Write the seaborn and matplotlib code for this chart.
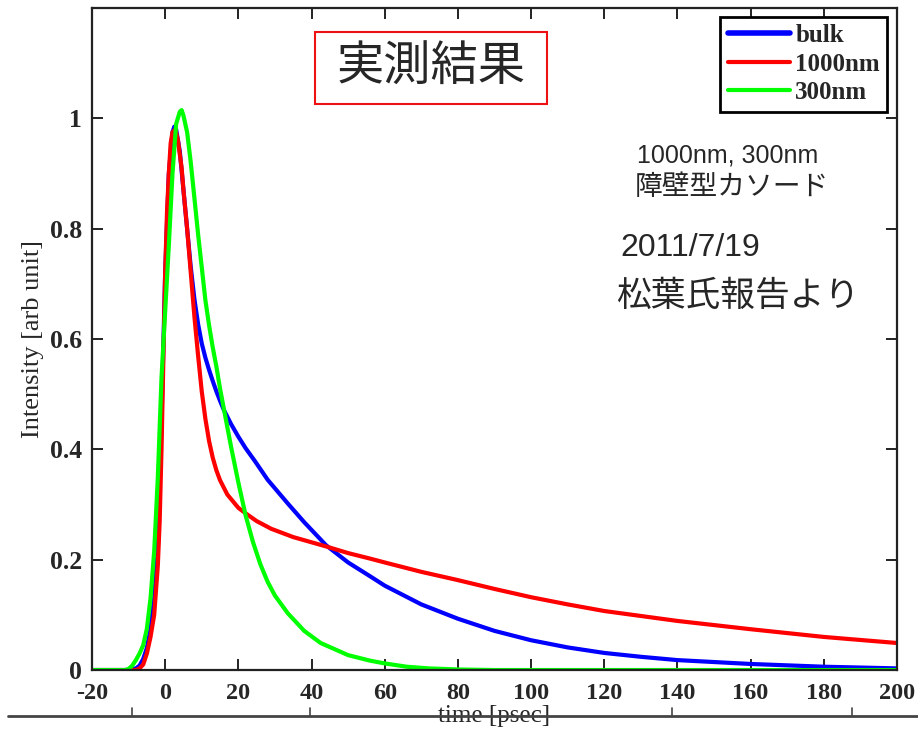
import pandas as pd
import matplotlib.pyplot as plt
import seaborn as sns
from matplotlib.patches import Rectangle
from matplotlib.lines import Line2D

bulk_t = [-20, -10, -8, -7, -6, -5, -4, -3, -2, -1, 0, 1, 2, 2.5, 3, 4, 5, 6, 7, 8, 9, 10,
          11, 12, 13, 14, 15, 16, 18, 20, 22, 24.5, 28, 33.5, 38, 44, 50, 56, 60, 70, 80,
          90, 100, 110, 120, 130, 140, 160, 180, 200]
bulk_i = [0, 0, 0.003, 0.008, 0.02, 0.04, 0.075, 0.13, 0.22, 0.45, 0.72, 0.9, 0.975, 0.985,
          0.98, 0.94, 0.87, 0.80, 0.73, 0.672, 0.627, 0.592, 0.566, 0.544, 0.524, 0.505, 0.488,
          0.472, 0.446, 0.423, 0.402, 0.379, 0.345, 0.302, 0.268, 0.226, 0.195, 0.170, 0.153,
          0.119, 0.093, 0.071, 0.054, 0.041, 0.031, 0.024, 0.018, 0.011, 0.006, 0.003]

nm1000_t = [-20, -8, -7, -6, -5, -4, -3, -2, -1.5, -1, -0.5, 0, 0.5, 1, 1.5, 2, 2.8, 3.5, 4,
            4.5, 5, 6, 7, 8, 9, 10, 11, 12, 13, 14, 15, 17, 20, 22, 25, 29, 35, 44, 50, 56,
            60, 70, 80, 90, 100, 110, 120, 140, 160, 180, 200]
nm1000_i = [0, 0, 0.003, 0.01, 0.03, 0.06, 0.10, 0.19, 0.27, 0.40, 0.56, 0.72, 0.83, 0.90,
            0.955, 0.975, 0.98, 0.96, 0.935, 0.91, 0.87, 0.80, 0.72, 0.64, 0.57, 0.505, 0.455,
            0.415, 0.385, 0.362, 0.344, 0.318, 0.294, 0.284, 0.27, 0.256, 0.241, 0.224, 0.212,
            0.202, 0.195, 0.178, 0.163, 0.147, 0.132, 0.119, 0.107, 0.089, 0.074, 0.060, 0.049]

nm300_t = [-20, -11, -10, -9, -8, -7, -6, -5, -4, -3, -2, -1, 0, 1, 2, 3, 4, 4.5, 5, 6, 7,
           8, 9, 10, 11, 12, 13, 14, 15, 16, 17, 18, 20, 22, 24, 26, 28, 30, 33.5, 38, 42.5,
           50, 56, 60, 66, 72, 80, 90, 200]
nm300_i = [0, 0, 0.002, 0.008, 0.018, 0.03, 0.045, 0.075, 0.13, 0.215, 0.35, 0.53, 0.65,
           0.77, 0.90, 0.99, 1.012, 1.015, 1.005, 0.975, 0.92, 0.855, 0.79, 0.73, 0.67, 0.625,
           0.585, 0.55, 0.51, 0.475, 0.44, 0.405, 0.34, 0.28, 0.232, 0.192, 0.16, 0.135, 0.103,
           0.071, 0.049, 0.027, 0.017, 0.012, 0.006, 0.003, 0.001, 0, 0]

series_names = ['bulk', '1000nm', '300nm']
series_colors = ['#0000ff', '#ff0000', '#00ff00']
x_ticks = [-20, 0, 20, 40, 60, 80, 100, 120, 140, 160, 180, 200]
y_ticks = [0, 0.2, 0.4, 0.6, 0.8, 1]
y_tick_labels = ['0', '0.2', '0.4', '0.6', '0.8', '1']

df = pd.concat([
    pd.DataFrame({'time': bulk_t, 'intensity': bulk_i, 'sample': 'bulk'}),
    pd.DataFrame({'time': nm1000_t, 'intensity': nm1000_i, 'sample': '1000nm'}),
    pd.DataFrame({'time': nm300_t, 'intensity': nm300_i, 'sample': '300nm'}),
])

sns.set_style('ticks')
plt.rcParams['font.family'] = ['Liberation Serif', 'DejaVu Serif']
jp_font = ['Liberation Sans', 'Noto Sans CJK JP']

fig = plt.figure(figsize=(9.18, 7.31), dpi=100)
ax = fig.add_axes([0.1002, 0.0834, 0.8769, 0.9056])

sns.lineplot(data=df, x='time', y='intensity', hue='sample', hue_order=series_names,
             palette=dict(zip(series_names, series_colors)), estimator=None,
             linewidth=3, ax=ax)

ax.set_xlim(-20, 200)
ax.set_ylim(0, 1.2)
ax.set_xticks(x_ticks)
ax.set_xticklabels([str(t) for t in x_ticks], fontsize=17.5, fontweight='bold')
ax.set_yticks(y_ticks)
ax.set_yticklabels(y_tick_labels, fontsize=18.5, fontweight='bold')
ax.tick_params(direction='in', length=8, width=1.4, top=True, right=True,
               color='#222222')
ax.tick_params(axis='x', pad=9)
ax.tick_params(axis='y', pad=7)
for sp in ax.spines.values():
    sp.set_linewidth(1.6)
    sp.set_color('#222222')
ax.set_xlabel('time [psec]', fontsize=18, labelpad=1)
ax.set_ylabel('Intensity [arb unit]', fontsize=19, labelpad=4)

leg = ax.legend(loc='upper right', bbox_to_anchor=(0.988, 0.987), borderaxespad=0,
                prop={'family': 'Liberation Serif', 'weight': 'bold', 'size': 18},
                handlelength=2.5, handletextpad=0.2, labelspacing=0.22,
                borderpad=0.3, fancybox=False, framealpha=1)
leg.get_frame().set_edgecolor('black')
leg.get_frame().set_linewidth(2)
leg.get_lines()[0].set_linewidth(4)

# red framed title
fig.patches.append(Rectangle((315 / 918, 1 - 104 / 731), 232 / 918, 72 / 731,
                             transform=fig.transFigure, fill=False,
                             edgecolor='#ee1111', linewidth=1.5))
fig.text(431 / 918, 1 - 69 / 731, '実測結果', family=jp_font, fontsize=34,
         ha='center', va='center')

fig.text(637 / 918, 1 - 155 / 731, '1000nm, 300nm', family=jp_font, fontsize=18,
         ha='left', va='center')
fig.text(635 / 918, 1 - 188 / 731, '障壁型カソード', family=jp_font, fontsize=20,
         ha='left', va='center')
fig.text(620 / 918, 1 - 248 / 731, '2011/7/19', family=jp_font, fontsize=23,
         ha='left', va='center')
fig.text(616 / 918, 1 - 296 / 731, '松葉氏報告より', family=jp_font, fontsize=25,
         ha='left', va='center')

# stray axis line at the bottom edge of the slide
fig.add_artist(Line2D([8 / 918, 1], [1 - 716 / 731] * 2, transform=fig.transFigure,
                      color='#444444', linewidth=2))
for px in [132, 310, 672, 852]:
    fig.add_artist(Line2D([px / 918] * 2, [1 - 716 / 731, 1 - 708 / 731],
                          transform=fig.transFigure, color='#444444', linewidth=1.2))

fig.savefig('out.png', dpi=100)
